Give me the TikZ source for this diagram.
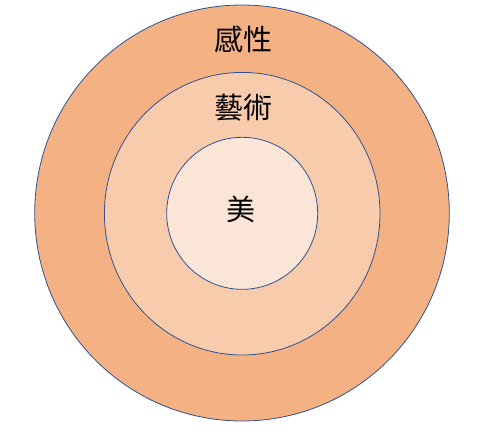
\documentclass[tikz,border=0pt]{standalone}
\usepackage{fontspec}
\newfontfamily\cjk{Noto Sans CJK TC}
\definecolor{ringA}{HTML}{F4B183}
\definecolor{ringB}{HTML}{F8CBAD}
\definecolor{ringC}{HTML}{FBE5D6}
\definecolor{edge}{HTML}{2F528F}
\begin{document}
\begin{tikzpicture}[x=1pt,y=-1pt,
  ring/.style={draw=edge,line width=0.8pt},
  lbl/.style={font=\cjk\fontsize{29}{32}\selectfont,text=black,inner sep=0pt}]
\useasboundingbox (0,0) rectangle (479,437);
\filldraw[ring,fill=ringA] (242,213) ellipse [x radius=207.3, y radius=208];
\filldraw[ring,fill=ringB] (242.2,213.7) ellipse [x radius=137.8, y radius=141.3];
\filldraw[ring,fill=ringC] (242.2,213.3) ellipse [x radius=75.5, y radius=76];
\node[lbl] (outer) at (243,39) {感性};
\node[lbl] (middle) at (243,108) {藝術};
\node[lbl] (inner) at (241,209) {美};
\end{tikzpicture}
\end{document}
